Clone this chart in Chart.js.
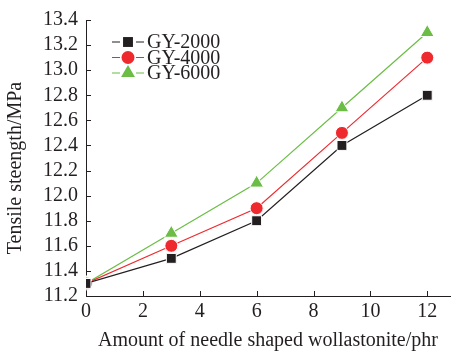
<!DOCTYPE html>
<html>
<head>
<meta charset="utf-8">
<script src="https://cdn.jsdelivr.net/npm/chart.js@4.4.1/dist/chart.umd.min.js"></script>
<style>
  html, body { margin: 0; padding: 0; background: #fff; }
  #wrap { width: 459px; height: 353px; }
</style>
</head>
<body>
<div id="wrap"><canvas id="tensile-chart-js" width="459" height="353"></canvas></div>
<script>
const amounts = [0, 3, 6, 9, 12];
const gy2000 = [11.3, 11.5, 11.8, 12.4, 12.8];
const gy4000 = [11.3, 11.6, 11.9, 12.5, 13.1];
const gy6000 = [11.3, 11.7, 12.1, 12.7, 13.3];
const seriesNames = ['GY-2000', 'GY-4000', 'GY-6000'];
const xTicks = [0, 2, 4, 6, 8, 10, 12];
const yTicks = [11.2, 11.4, 11.6, 11.8, 12.0, 12.2, 12.4, 12.6, 12.8, 13.0, 13.2, 13.4];
const yTitle = 'Tensile steength/MPa';

const serif = "'Liberation Serif', 'DejaVu Serif', serif";

function pairs(values) {
  return values.map((v, i) => ({ x: amounts[i], y: v }));
}

// inward tick marks on left and bottom axes, plus the rotated y title
const innerTicks = {
  id: 'innerTicks',
  afterDraw(chart) {
    const ctx = chart.ctx;
    const area = chart.chartArea;
    const x = chart.scales.x;
    const y = chart.scales.y;
    ctx.save();
    ctx.strokeStyle = '#231f20';
    ctx.lineWidth = 1;
    ctx.beginPath();
    xTicks.forEach((v) => {
      const px = Math.round(x.getPixelForValue(v)) + 0.5;
      ctx.moveTo(px, area.bottom);
      ctx.lineTo(px, area.bottom - 5);
    });
    yTicks.forEach((v) => {
      const py = Math.round(y.getPixelForValue(v)) + 0.5;
      ctx.moveTo(area.left, py);
      ctx.lineTo(area.left + 5, py);
    });
    ctx.stroke();

    ctx.translate(16, 168);
    ctx.rotate(-Math.PI / 2);
    ctx.fillStyle = '#231f20';
    ctx.font = '20px ' + serif;
    ctx.textAlign = 'center';
    ctx.textBaseline = 'middle';
    ctx.fillText(yTitle, 0, 0);
    ctx.restore();
  }
};

// legend with a short line through each marker
const lineLegend = {
  id: 'lineLegend',
  afterDraw(chart) {
    const ctx = chart.ctx;
    const left = 112;
    const top = 42;
    const rowGap = 15.5;
    chart.data.datasets.forEach((ds, i) => {
      const cy = top + i * rowGap;
      ctx.save();
      ctx.strokeStyle = ds.borderColor;
      ctx.lineWidth = 1.2;
      ctx.setLineDash([8, 16]);
      ctx.beginPath();
      ctx.moveTo(left, cy);
      ctx.lineTo(left + 32, cy);
      ctx.stroke();
      ctx.setLineDash([]);
      ctx.fillStyle = ds.backgroundColor;
      ctx.strokeStyle = ds.backgroundColor;
      Chart.helpers.drawPoint(ctx, {
        pointStyle: ds.pointStyle,
        radius: ds.pointRadius,
        borderWidth: 0,
        rotation: 0
      }, left + 16, cy);
      ctx.fillStyle = '#231f20';
      ctx.font = '20px ' + serif;
      ctx.textBaseline = 'middle';
      ctx.fillText(seriesNames[i], left + 35, cy + 1);
      ctx.restore();
    });
  }
};

const ctx = document.getElementById('tensile-chart-js').getContext('2d');

new Chart(ctx, {
  type: 'line',
  data: {
    datasets: [{
      data: pairs(gy2000),
      borderColor: '#231f20',
      backgroundColor: '#231f20',
      pointStyle: 'rect',
      pointRadius: 7,
    }, {
      data: pairs(gy4000),
      borderColor: '#ee2a2f',
      backgroundColor: '#ee2a2f',
      pointStyle: 'circle',
      pointRadius: 6.5,
    }, {
      data: pairs(gy6000),
      borderColor: '#6bbd45',
      backgroundColor: '#6bbd45',
      pointStyle: 'triangle',
      pointRadius: 8,
    }].map((ds) => Object.assign(ds, {
      borderWidth: 1.2,
      pointBorderColor: '#fff',
      pointBorderWidth: 1,
      tension: 0,
      fill: false,
    })),
  },
  options: {
    responsive: false,
    animation: false,
    layout: { padding: { top: 10, right: 0, left: 0, bottom: 0 } },
    plugins: {
      legend: { display: false },
      tooltip: { enabled: false }
    },
    scales: {
      x: {
        type: 'linear',
        min: 0,
        max: 12.8,
        afterBuildTicks: (scale) => { scale.ticks = xTicks.map((v) => ({ value: v })); },
        afterFit: (scale) => { scale.height = 57; },
        grid: { display: true, drawOnChartArea: false, drawTicks: false },
        border: { display: true, color: '#231f20', width: 1 },
        ticks: {
          color: '#231f20',
          padding: 4,
          maxRotation: 0,
          autoSkip: false,
          font: { family: serif, size: 20 }
        },
        title: {
          display: true,
          text: 'Amount of needle shaped wollastonite/phr',
          color: '#231f20',
          padding: { top: 6, bottom: 0 },
          font: { family: serif, size: 20 }
        }
      },
      y: {
        min: 11.2,
        max: 13.4,
        afterBuildTicks: (scale) => { scale.ticks = yTicks.map((v) => ({ value: v })); },
        afterFit: (scale) => { scale.width = 86; },
        grid: { display: true, drawOnChartArea: false, drawTicks: false },
        border: { display: true, color: '#231f20', width: 1 },
        ticks: {
          color: '#231f20',
          padding: 8,
          autoSkip: false,
          font: { family: serif, size: 20 },
          callback: (v) => v.toFixed(1)
        }
      }
    }
  },
  plugins: [innerTicks, lineLegend]
});
</script>
</body>
</html>
